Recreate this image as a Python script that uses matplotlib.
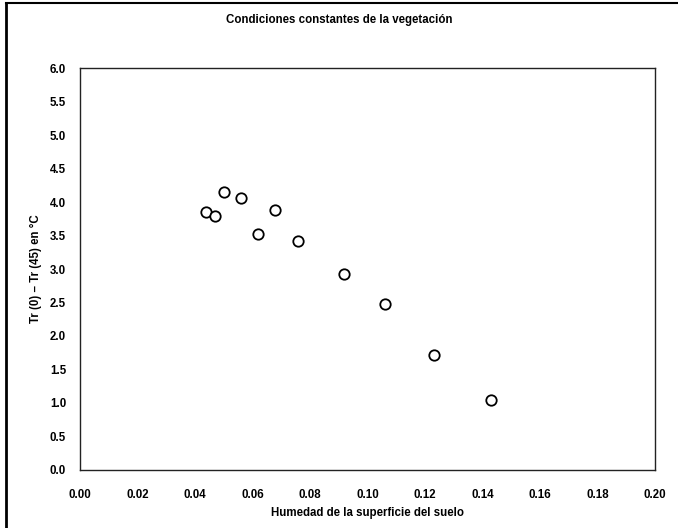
import matplotlib
matplotlib.use("Agg")
import matplotlib.pyplot as plt
from matplotlib.lines import Line2D

# ======================
# Data
# ======================
humedad = [0.044, 0.047, 0.050, 0.056, 0.062, 0.068, 0.076, 0.092, 0.106, 0.123, 0.143]
delta_tr = [3.85, 3.79, 4.15, 4.06, 3.52, 3.88, 3.42, 2.93, 2.48, 1.72, 1.04]

x_ticks = [0.00, 0.02, 0.04, 0.06, 0.08, 0.10, 0.12, 0.14, 0.16, 0.18, 0.20]
y_ticks = [0.0, 0.5, 1.0, 1.5, 2.0, 2.5, 3.0, 3.5, 4.0, 4.5, 5.0, 5.5, 6.0]

titulo = "Condiciones constantes de la vegetación"
etiqueta_x = "Humedad de la superficie del suelo"
etiqueta_y = "Tr (0) \u2013 Tr (45) en °C"

# ======================
# Figure
# ======================
plt.rcParams['font.family'] = ['Liberation Sans', 'DejaVu Sans']

fig = plt.figure(figsize=(6.78, 5.28), dpi=100)
ax = fig.add_axes([0.118, 0.110, 0.848, 0.761])

ax.plot(humedad, delta_tr, linestyle='none', marker='o', markersize=7.5,
        markerfacecolor='white', markeredgecolor='black', markeredgewidth=1.3)

ax.set_xlim(0, 0.20)
ax.set_ylim(0, 6.0)
ax.set_xticks(x_ticks)
ax.set_xticklabels([f"{v:.2f}" for v in x_ticks])
ax.set_yticks(y_ticks)
ax.set_yticklabels([f"{v:.1f}" for v in y_ticks])
ax.tick_params(axis='both', length=0, labelsize=8.3)
ax.tick_params(axis='x', pad=14)
ax.tick_params(axis='y', pad=10)
for lbl in ax.get_xticklabels() + ax.get_yticklabels():
    lbl.set_fontweight('bold')

for side in ax.spines.values():
    side.set_linewidth(1.0)
    side.set_color('#222222')

ax.set_xlabel(etiqueta_x, fontsize=8.3, fontweight='bold', labelpad=4)
ax.set_ylabel(etiqueta_y, fontsize=8.3, fontweight='bold', labelpad=6)
fig.text(0.5, 0.962, titulo, ha='center', va='center', fontsize=8.3, fontweight='bold')

# outer chart-area frame (left and top edges visible in the scan)
fig.add_artist(Line2D([0.009, 0.009], [0.0, 0.994], transform=fig.transFigure,
                      color='black', linewidth=2.0))
fig.add_artist(Line2D([0.009, 1.0], [0.994, 0.994], transform=fig.transFigure,
                      color='black', linewidth=1.5))

fig.savefig("out.png", dpi=100)
